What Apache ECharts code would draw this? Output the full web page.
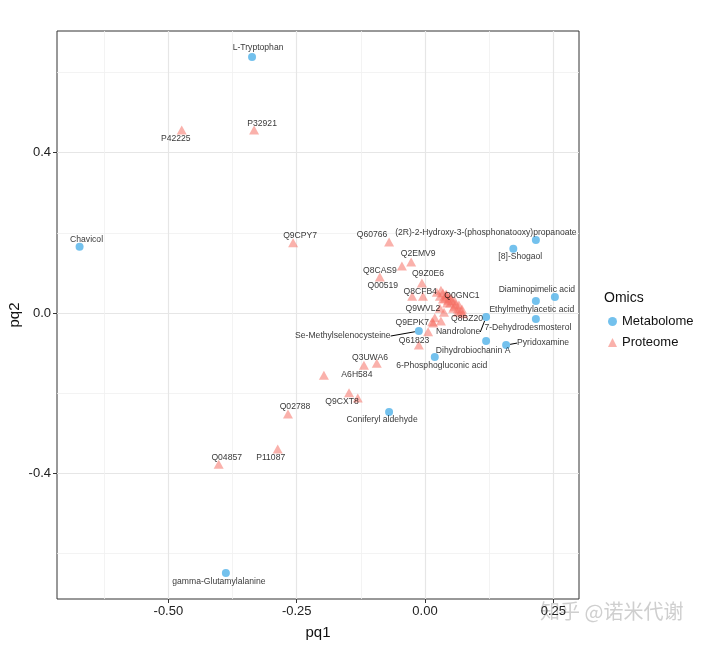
<!DOCTYPE html>
<html>
<head>
<meta charset="utf-8">
<script src="https://cdn.jsdelivr.net/npm/echarts@6/dist/echarts.min.js"></script>
<style>
  html, body { margin: 0; padding: 0; background: #fff; }
  #main { width: 715px; height: 645px; }
</style>
</head>
<body>
<div id="main"></div>
<script>
// metabolome points
const metaNames = ['L-Tryptophan', 'Chavicol', 'gamma-Glutamylalanine', 'Coniferyl aldehyde',
  '(2R)-2-Hydroxy-3-(phosphonatooxy)propanoate', '[8]-Shogaol', 'Diaminopimelic acid',
  'Ethylmethylacetic acid', '7-Dehydrodesmosterol', 'Nandrolone', 'Dihydrobiochanin A',
  'Pyridoxamine', '6-Phosphogluconic acid', 'Se-Methylselenocysteine'];
const metaX = [-0.337, -0.673, -0.388, -0.070, 0.216, 0.172, 0.253, 0.216, 0.216, 0.119, 0.119, 0.158, 0.019, -0.012];
const metaY = [0.638, 0.165, -0.648, -0.247, 0.182, 0.160, 0.040, 0.030, -0.015, -0.010, -0.070, -0.080, -0.110, -0.045];

// proteome points (unlabelled ones have an empty name)
const protNames = ['P42225', 'P32921', 'Q9CPY7', 'Q60766', 'Q8CAS9', 'Q2EMV9', 'Q00519', 'Q9Z0E6',
  'Q8CFB4', 'Q0GNC1', 'Q9WVL2', 'Q8BZ20', 'Q9EPK7', 'Q61823', 'Q3UWA6', 'A6H584', 'Q9CXT8',
  'Q02788', 'P11087', 'Q04857',
  '', '', '', '', '', '', '', '', '', '', '', '', '', '', '', '', '', '', '', '',
  '', '', '', '', '', '', '', '', '', ''];
const protX = [-0.474, -0.333, -0.257, -0.070, -0.045, -0.027, -0.088, -0.006,
  -0.025, 0.035, 0.029, 0.074, 0.016, 0.006, -0.119, -0.197, -0.148,
  -0.267, -0.287, -0.402,
  -0.094, -0.131, -0.004, -0.012, 0.023, 0.029, 0.039, 0.045, 0.049, 0.053,
  0.057, 0.060, 0.064, 0.070, 0.037, 0.019, 0.014, 0.031, 0.042, 0.047,
  0.031, 0.041, 0.051, 0.058, 0.066, 0.072, 0.043, 0.055, 0.035, 0.064];
const protY = [0.456, 0.456, 0.175, 0.177, 0.117, 0.127, 0.090, 0.075,
  0.042, 0.050, 0.012, -0.002, -0.025, -0.047, -0.130, -0.155, -0.199,
  -0.252, -0.339, -0.377,
  -0.125, -0.212, 0.042, -0.080, 0.052, 0.042, 0.037, 0.032, 0.025, 0.030,
  0.017, 0.022, 0.010, 0.005, 0.002, -0.012, -0.022, -0.020, 0.045, 0.040,
  0.057, 0.047, 0.037, 0.030, 0.020, 0.010, 0.025, 0.012, 0.035, 0.002];

// label placement (pixel shift of label centre from point)
const metaLabelShift = [[6, -9], [7, -7], [-7, 9], [-7, 8], [-50, -7], [7, 8], [-18, -7],
  [-4, 9], [-8, 9], [-28, 15], [-13, 10], [37, -2], [7, 9], [-76, 5]];
const protLabelShift = [[-6, 9], [8, -6], [7, -7], [-17, -7], [-22, 5], [7, -8], [3, 9], [6, -9],
  [8, -5], [19, 3], [-17, 0], [4, 5], [-21, 0], [-14, 9], [6, -8], [33, -1], [-7, 9],
  [7, -7], [-7, 9], [8, -7]];
const linkedLabels = ['Nandrolone', 'Pyridoxamine', 'Se-Methylselenocysteine'];

const xTicks = [-0.5, -0.25, 0, 0.25];
const yTicks = [-0.4, 0, 0.4];

function buildData(names, xs, ys) {
  return names.map((n, i) => ({
    name: n,
    value: [xs[i], ys[i]],
    label: { show: n !== '' },
    labelLine: { show: linkedLabels.indexOf(n) >= 0 }
  }));
}

function isTick(v, ticks) {
  return ticks.some(t => Math.abs(t - v) < 1e-6);
}

const chart = echarts.init(document.getElementById('main'));

const labelStyle = {
  position: 'inside',
  formatter: '{b}',
  fontSize: 8.6,
  fontFamily: 'Liberation Sans',
  color: '#000'
};

const option = {
  backgroundColor: '#fff',
  animation: false,
  textStyle: { fontFamily: 'Liberation Sans' },
  title: {
    text: 'Omics',
    left: 599,
    top: 286,
    textStyle: { fontSize: 14, fontWeight: 'normal', color: '#111' }
  },
  legend: {
    data: ['Metabolome', 'Proteome'],
    orient: 'vertical',
    left: 603,
    top: 310,
    itemWidth: 9,
    itemHeight: 9,
    itemGap: 8,
    textStyle: { fontSize: 13, color: '#111' }
  },
  grid: {
    left: 57,
    right: 136,
    top: 31,
    bottom: 46,
    outerBoundsMode: 'none',
    containLabel: false,
    show: true,
    borderColor: '#333',
    borderWidth: 1
  },
  xAxis: {
    type: 'value',
    min: -0.717,
    max: 0.3,
    minInterval: 0.25,
    maxInterval: 0.25,
    name: 'pq1',
    nameLocation: 'middle',
    nameGap: 26,
    nameTextStyle: { fontSize: 15, color: '#111' },
    axisLine: { show: false, onZero: false },
    axisTick: { show: true, length: 4, customValues: xTicks, lineStyle: { color: '#333' } },
    axisLabel: {
      fontSize: 13,
      color: '#222',
      margin: 6,
      customValues: xTicks,
      formatter: v => isTick(v, xTicks) ? v.toFixed(2) : ''
    },
    splitLine: { show: true, lineStyle: { color: '#e6e6e6', width: 1.2 } },
    minorTick: { show: false, splitNumber: 2 },
    minorSplitLine: { show: true, lineStyle: { color: '#f0f0f0', width: 0.8 } }
  },
  yAxis: {
    type: 'value',
    min: -0.713,
    max: 0.703,
    minInterval: 0.4,
    maxInterval: 0.4,
    name: 'pq2',
    nameLocation: 'middle',
    nameGap: 35,
    nameMoveOverlap: false,
    nameTextStyle: { fontSize: 15, color: '#111' },
    axisLine: { show: false, onZero: false },
    axisTick: { show: true, length: 4, customValues: yTicks, lineStyle: { color: '#333' } },
    axisLabel: {
      fontSize: 13,
      color: '#222',
      margin: 6,
      customValues: yTicks,
      formatter: v => isTick(v, yTicks) ? v.toFixed(1) : ''
    },
    splitLine: { show: true, lineStyle: { color: '#e6e6e6', width: 1.2 } },
    minorTick: { show: false, splitNumber: 2 },
    minorSplitLine: { show: true, lineStyle: { color: '#f0f0f0', width: 0.8 } }
  },
  series: [
    {
      name: 'Metabolome',
      type: 'scatter',
      symbol: 'circle',
      symbolSize: 8,
      itemStyle: { color: '#50b1e9' },
      data: buildData(metaNames, metaX, metaY),
      label: labelStyle,
      labelLine: { lineStyle: { color: '#000', width: 1 } },
      labelLayout: p => ({ dx: metaLabelShift[p.dataIndex][0], dy: metaLabelShift[p.dataIndex][1] })
    },
    {
      name: 'Proteome',
      type: 'scatter',
      symbol: 'triangle',
      symbolSize: [10, 9],
      itemStyle: { color: 'rgba(245,110,100,0.68)' },
      data: buildData(protNames, protX, protY),
      label: labelStyle,
      labelLayout: p => {
        const s = protLabelShift[p.dataIndex];
        return s ? { dx: s[0], dy: s[1] } : {};
      }
    }
  ],
  graphic: [{
    type: 'text',
    left: 540,
    top: 601,
    silent: true,
    style: {
      text: '知乎 @诺米代谢',
      fontSize: 20,
      fontFamily: 'Noto Sans CJK SC',
      fill: 'rgba(160,160,160,0.5)'
    }
  }]
};

chart.setOption(option);
</script>
</body>
</html>
